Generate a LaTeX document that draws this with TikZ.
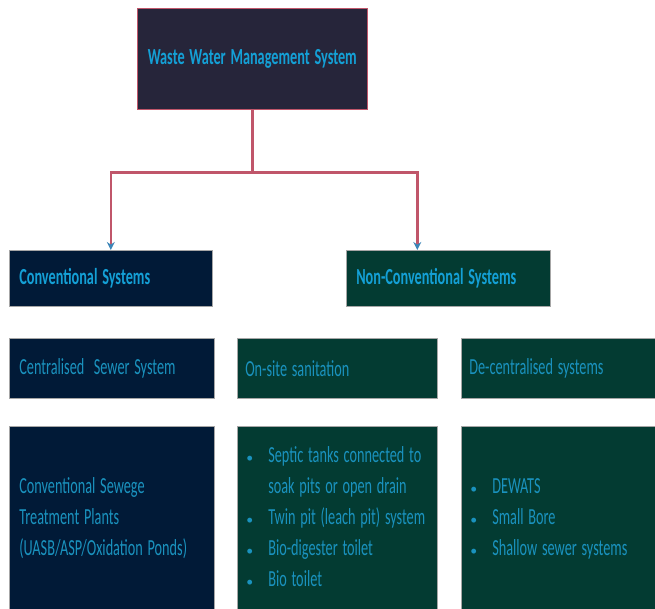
\documentclass[tikz,border=0pt]{standalone}
\usepackage{fontspec}
\setmainfont{Carlito}
\usetikzlibrary{arrows.meta}
\definecolor{topfill}{HTML}{26253A}
\definecolor{navyfill}{HTML}{011A37}
\definecolor{greenfill}{HTML}{033B32}
\definecolor{headtext}{HTML}{14A0D6}
\definecolor{boxtext}{HTML}{1A92BE}
\definecolor{linkred}{HTML}{C0566A}
\definecolor{tipblue}{HTML}{3C86B8}
\tikzset{font=\fontsize{23}{31}\selectfont}
\tikzset{sysbox/.style={draw=gray!70, line width=0.6pt, text=boxtext, align=left,
    inner xsep=10pt, inner ysep=0pt, anchor=north west}}
\tikzset{headbox/.style={sysbox, text=headtext, font=\fontsize{23}{31}\selectfont\bfseries}}
\tikzset{link/.style={draw=linkred, line width=2.4pt,
    -{Stealth[color=tipblue, length=8pt, width=8pt]}}}
% squeezed text, as in the narrow lettering of the chart
\newcommand\sq[1]{\scalebox{0.62}[1]{#1}}
\newcommand\lines[1]{\raisebox{-3pt}{\begin{tabular}{@{}l@{}}#1\end{tabular}}}
\newcommand\bitem{\makebox[22pt][l]{\scalebox{0.6}{\textbullet}}}

\begin{document}
\begin{tikzpicture}[x=1pt, y=1pt]
\useasboundingbox (0,0) rectangle (655,-609);
% top of the tree
\node[headbox, fill=topfill, draw=linkred, align=center, text width=210pt, minimum height=101pt] (wwms) at (137,-8) {\sq{Waste Water Management System}};
% the two kinds of system
\node[headbox, fill=navyfill, text width=183pt, minimum height=56pt] (conv) at (9,-250) {\sq{Conventional Systems}};
\node[headbox, fill=greenfill, text width=184pt, minimum height=56pt] (nonconv) at (346,-250) {\sq{Non-Conventional Systems}};
\draw[link] (wwms.south) -- ++(0,-63) -| (conv.north);
\draw[link] (wwms.south) -- ++(0,-63) -| ([xshift=-31pt]nonconv.north);
% second row
\node[sysbox, fill=navyfill, text width=185pt, minimum height=60pt] (central) at (9,-338) {\sq{Centralised\ \ Sewer System}};
\node[sysbox, fill=greenfill, inner xsep=8pt, text width=184pt, minimum height=60pt] (onsite) at (237,-338) {\sq{On-site sanitation}};
\node[sysbox, fill=greenfill, inner xsep=8pt, text width=178pt, minimum height=60pt] (decentral) at (461,-338) {\sq{De-centralised\ systems}};
% third row
\node[sysbox, fill=navyfill, text width=185pt, minimum height=183pt] (stp) at (9,-426)
  {\lines{\sq{Conventional Sewege}\\\sq{Treatment Plants}\\\sq{(UASB/ASP/Oxidation Ponds)}}};
\node[sysbox, fill=greenfill, inner xsep=9pt, text width=182pt, minimum height=183pt] (onsitelist) at (237,-426)
  {\lines{\bitem\sq{Septic tanks connected to}\\\hspace*{22pt}\sq{soak pits or open drain}\\
   \bitem\sq{Twin pit (leach pit) system}\\\bitem\sq{Bio-digester toilet}\\\bitem\sq{Bio toilet}}};
\node[sysbox, fill=greenfill, inner xsep=9pt, text width=176pt, minimum height=183pt] (decentrallist) at (461,-426)
  {\lines{\bitem\sq{DEWATS}\\\bitem\sq{Small Bore}\\\bitem\sq{Shallow sewer systems}}};
\end{tikzpicture}
\end{document}
